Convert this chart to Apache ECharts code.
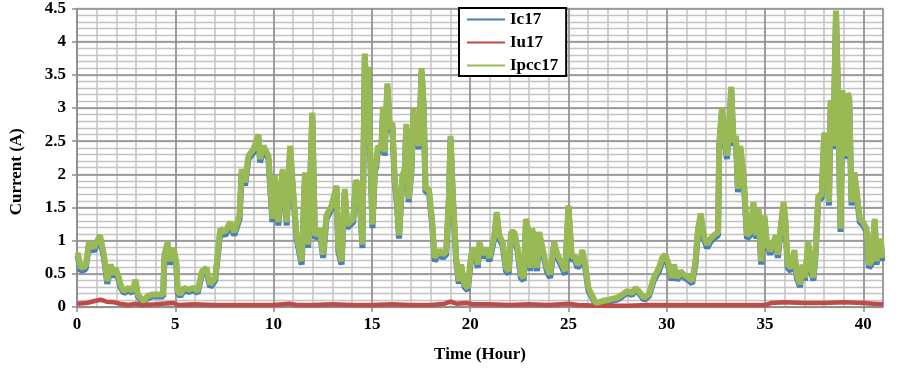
<!DOCTYPE html>
<html>
<head>
<meta charset="utf-8">
<script src="https://cdn.jsdelivr.net/npm/echarts@6/dist/echarts.min.js"></script>
<style>
  html, body { margin: 0; padding: 0; background: #fff; }
  #chart { width: 900px; height: 372px; }
</style>
</head>
<body>
<div id="chart"></div>
<script>
// time in hours for Ic17 / Ipcc17 samples
var hours = [
  0.03,0.19,0.44,0.61,0.86,1.17,1.37,1.54,1.71,1.88,
  1.96,2.13,2.21,2.38,2.64,2.81,2.98,3.09,3.23,3.40,
  3.57,3.82,4.16,4.38,4.45,4.61,4.72,4.92,5.05,5.12,
  5.26,5.43,5.68,5.93,6.14,6.36,6.58,6.78,7.03,7.29,
  7.54,7.79,8.00,8.27,8.38,8.55,8.72,8.98,9.23,9.31,
  9.48,9.74,9.82,9.94,10.07,10.24,10.46,10.67,10.84,11.00,
  11.17,11.43,11.60,11.76,11.97,12.10,12.36,12.52,12.69,12.95,
  13.20,13.29,13.46,13.62,13.74,13.88,14.05,14.18,14.35,14.52,
  14.64,14.72,14.81,14.89,15.03,15.15,15.23,15.31,15.48,15.57,
  15.65,15.79,15.91,16.04,16.16,16.28,16.38,16.55,16.67,16.75,
  16.87,17.01,17.12,17.26,17.39,17.53,17.63,17.73,17.90,18.07,
  18.19,18.44,18.61,18.78,18.92,19.00,19.12,19.29,19.42,19.54,
  19.71,19.88,20.05,20.22,20.39,20.47,20.64,20.81,20.98,21.23,
  21.35,21.48,21.65,21.82,21.96,22.08,22.25,22.41,22.58,22.72,
  22.84,22.97,23.06,23.14,23.26,23.40,23.51,23.68,23.90,24.07,
  24.27,24.44,24.61,24.83,25.00,25.17,25.29,25.46,25.59,25.71,
  25.85,26.01,26.18,26.39,26.72,27.06,27.48,27.74,27.99,28.24,
  28.41,28.58,28.84,29.09,29.34,29.60,29.77,29.93,30.10,30.24,
  30.36,30.53,30.70,30.86,31.12,31.29,31.46,31.59,31.73,31.88,
  32.05,32.22,32.39,32.61,32.67,32.81,32.98,33.06,33.15,33.28,
  33.40,33.52,33.62,33.74,33.91,34.08,34.25,34.41,34.55,34.67,
  34.80,34.97,35.09,35.26,35.43,35.55,35.65,35.77,35.94,36.02,
  36.15,36.32,36.49,36.61,36.78,36.90,37.03,37.20,37.34,37.46,
  37.57,37.71,37.88,38.01,38.13,38.25,38.34,38.47,38.61,38.72,
  38.84,38.94,39.06,39.20,39.28,39.40,39.54,39.65,39.82,39.99,
  40.16,40.28,40.41,40.58,40.67,40.75,40.89,40.96
];

var ipcc17 = [
  0.82,0.59,0.62,0.98,0.89,1.08,0.79,0.39,0.64,0.49,
  0.59,0.44,0.34,0.24,0.29,0.24,0.41,0.19,0.14,0.09,
  0.16,0.19,0.19,0.19,0.79,0.98,0.69,0.89,0.69,0.24,
  0.19,0.29,0.26,0.29,0.24,0.54,0.59,0.34,0.44,1.18,
  1.13,1.28,1.13,1.38,2.08,1.88,2.28,2.38,2.60,2.23,
  2.43,2.28,1.88,1.33,1.98,1.28,2.08,1.28,2.43,1.73,
  1.08,0.69,2.03,0.94,2.93,1.08,1.18,0.79,1.38,1.53,
  1.83,0.89,0.69,1.78,1.24,1.28,1.33,1.91,1.83,0.94,
  3.82,3.07,3.62,2.58,1.24,2.08,2.18,2.43,2.38,3.02,
  2.33,3.37,2.68,2.78,1.93,1.58,1.08,1.98,2.08,2.76,
  1.63,2.08,2.99,2.58,2.43,3.60,3.07,1.78,1.78,1.28,
  0.74,0.86,0.79,0.84,1.68,2.58,1.68,0.74,0.39,0.64,
  0.34,0.29,0.79,0.89,0.64,0.98,0.79,0.89,0.74,1.08,
  1.43,1.08,0.98,0.59,0.54,1.13,1.13,0.89,0.49,0.44,
  1.33,1.13,0.59,1.18,1.08,0.59,1.13,0.89,0.59,0.49,
  0.98,0.79,0.69,0.54,1.53,0.74,0.79,0.64,0.69,0.86,
  0.64,0.29,0.19,0.06,0.09,0.11,0.14,0.19,0.24,0.21,
  0.29,0.24,0.14,0.19,0.44,0.59,0.74,0.79,0.64,0.44,
  0.64,0.44,0.54,0.49,0.44,0.39,0.69,1.18,1.41,1.08,
  0.94,1.03,1.08,1.13,2.48,3.00,2.48,2.28,2.58,3.32,
  2.48,2.58,1.78,2.43,1.98,1.08,1.13,1.58,1.08,1.48,
  0.69,1.38,0.98,0.84,0.98,1.08,0.79,1.13,1.58,1.38,
  0.64,0.59,0.86,0.49,0.34,0.64,0.44,0.98,0.59,0.44,
  0.84,1.68,1.68,2.63,2.38,1.58,3.12,2.43,4.47,3.12,
  1.18,3.27,2.28,3.22,3.17,1.58,2.03,1.78,1.33,1.28,
  1.18,0.64,0.69,1.33,0.69,0.71,1.03,0.74
];

var ic17 = [
  0.77,0.54,0.57,0.93,0.84,1.03,0.74,0.35,0.59,0.45,
  0.54,0.40,0.30,0.21,0.25,0.21,0.37,0.16,0.11,0.07,
  0.13,0.16,0.16,0.16,0.74,0.93,0.64,0.84,0.64,0.21,
  0.16,0.25,0.23,0.25,0.21,0.50,0.54,0.30,0.40,1.13,
  1.08,1.23,1.08,1.33,2.03,1.83,2.23,2.33,2.55,2.18,
  2.38,2.23,1.83,1.28,1.93,1.23,2.03,1.23,2.38,1.68,
  1.03,0.64,1.98,0.89,2.88,1.03,1.13,0.74,1.33,1.48,
  1.78,0.84,0.64,1.73,1.19,1.23,1.28,1.86,1.78,0.89,
  3.77,3.02,3.57,2.53,1.19,2.03,2.13,2.38,2.33,2.97,
  2.28,3.32,2.63,2.73,1.88,1.53,1.03,1.93,2.03,2.71,
  1.58,2.03,2.94,2.53,2.38,3.55,3.02,1.73,1.73,1.23,
  0.69,0.81,0.74,0.79,1.63,2.53,1.63,0.69,0.35,0.59,
  0.30,0.25,0.74,0.84,0.59,0.93,0.74,0.84,0.69,1.03,
  1.38,1.03,0.93,0.54,0.50,1.08,1.08,0.84,0.44,0.40,
  1.28,1.08,0.54,1.13,1.03,0.54,1.08,0.84,0.54,0.44,
  0.93,0.74,0.64,0.49,1.48,0.69,0.74,0.59,0.64,0.81,
  0.59,0.25,0.16,0.03,0.06,0.08,0.11,0.16,0.21,0.18,
  0.26,0.21,0.11,0.16,0.40,0.54,0.69,0.74,0.59,0.40,
  0.59,0.40,0.50,0.45,0.40,0.35,0.64,1.13,1.36,1.03,
  0.89,0.98,1.03,1.08,2.43,2.95,2.43,2.23,2.53,3.27,
  2.43,2.53,1.73,2.38,1.93,1.03,1.08,1.53,1.03,1.43,
  0.64,1.33,0.93,0.79,0.93,1.03,0.74,1.08,1.53,1.33,
  0.59,0.54,0.81,0.44,0.30,0.59,0.40,0.93,0.54,0.40,
  0.79,1.63,1.63,2.58,2.33,1.53,3.07,2.38,4.42,3.07,
  1.13,3.22,2.23,3.17,3.12,1.53,1.98,1.73,1.28,1.23,
  1.13,0.59,0.64,1.28,0.64,0.66,0.98,0.69
];

// Iu17 is small, sampled coarser
var iuHours = [
  0,0.5,0.9,1.2,1.5,1.9,2.2,2.6,3.0,3.3,
  4.0,4.9,5.2,6,7,8,9,10,10.8,11.2,
  12,13,14,15,16,17,18,18.7,19.0,19.3,
  19.8,20.2,21,22,23,24,25,25.5,26.5,27,
  28,29,30,31,32,33,34,35,35.3,36,
  37,38,39,40,40.5,41
];
var iu17 = [
  0.05,0.06,0.09,0.11,0.08,0.07,0.05,0.03,0.05,0.03,
  0.04,0.06,0.03,0.04,0.03,0.03,0.03,0.03,0.05,0.03,
  0.03,0.04,0.03,0.03,0.04,0.03,0.03,0.05,0.08,0.05,
  0.06,0.04,0.04,0.03,0.04,0.03,0.05,0.03,0.02,0.02,
  0.02,0.03,0.03,0.03,0.03,0.03,0.03,0.03,0.06,0.07,
  0.06,0.06,0.07,0.06,0.05,0.04
];

var xTicks = { min: 0, max: 41, major: 5, minor: 1 };
var yTicks = { min: 0, max: 4.5, major: 0.5, minor: 0.1 };

function pairs(xs, ys) {
    var out = [];
    for (var i = 0; i < xs.length; i++) {
        out.push([xs[i], ys[i]]);
    }
    return out;
}

var font = 'Liberation Serif';
var majorColor = '#8c8c8c';
var minorColor = '#c3c3c3';

var chart = echarts.init(document.getElementById('chart'));
var option = {
    animation: false,
    backgroundColor: '#fff',
    grid: { left: 75, right: 17, top: 5, bottom: 65 },
    legend: {
        orient: 'vertical',
        left: 459,
        top: 8,
        backgroundColor: '#fff',
        borderColor: '#000',
        borderWidth: 2,
        borderRadius: 0,
        padding: [3, 8, 2, 8],
        itemGap: 6,
        itemWidth: 38,
        itemHeight: 2,
        icon: 'rect',
        textStyle: { fontFamily: font, fontWeight: 'bold', fontSize: 17, color: '#000', lineHeight: 16 },
        data: ['Ic17', 'Iu17', 'Ipcc17']
    },
    xAxis: [{
        type: 'value',
        min: xTicks.min, max: xTicks.max, interval: xTicks.major,
        z: 3,
        name: 'Time (Hour)',
        nameLocation: 'middle',
        nameGap: 39,
        nameTextStyle: { fontFamily: font, fontWeight: 'bold', fontSize: 17, color: '#000' },
        axisLine: { lineStyle: { color: majorColor, width: 1.5 } },
        axisTick: { show: true, length: 5, lineStyle: { color: majorColor, width: 1.5 } },
        axisLabel: { fontFamily: font, fontWeight: 'bold', fontSize: 17, color: '#000', margin: 9, showMaxLabel: false },
        splitLine: { show: true, lineStyle: { color: majorColor, width: 1.5 } }
    }, {
        type: 'value',
        min: xTicks.min, max: xTicks.max, interval: xTicks.minor,
        z: 1,
        axisLine: { show: false }, axisTick: { show: false }, axisLabel: { show: false },
        splitLine: { show: true, lineStyle: { color: minorColor, width: 1.5 } }
    }],
    yAxis: [{
        type: 'value',
        min: yTicks.min, max: yTicks.max, interval: yTicks.major,
        z: 3,
        name: 'Current (A)',
        nameLocation: 'middle',
        nameGap: 52,
        nameTextStyle: { fontFamily: font, fontWeight: 'bold', fontSize: 17, color: '#000', padding: [0, 28, 0, 0] },
        axisLine: { show: true, lineStyle: { color: majorColor, width: 1.5 } },
        axisTick: { show: true, length: 5, lineStyle: { color: majorColor, width: 1.5 } },
        axisLabel: { fontFamily: font, fontWeight: 'bold', fontSize: 17, color: '#000', margin: 11 },
        splitLine: { show: true, lineStyle: { color: majorColor, width: 1.5 } }
    }, {
        type: 'value',
        position: 'left',
        min: yTicks.min, max: yTicks.max, interval: yTicks.minor,
        z: 1,
        axisLine: { show: false }, axisTick: { show: false }, axisLabel: { show: false },
        splitLine: { show: true, lineStyle: { color: minorColor, width: 1.3 } }
    }],
    series: [{
        name: 'Ic17',
        type: 'line',
        showSymbol: false,
        color: '#4a7ebb',
        lineStyle: { color: '#4a7ebb', width: 6 },
        z: 4,
        data: pairs(hours, ic17)
    }, {
        name: 'Iu17',
        type: 'line',
        showSymbol: false,
        color: '#be4b48',
        lineStyle: { color: '#be4b48', width: 4.5 },
        z: 5,
        data: pairs(iuHours, iu17)
    }, {
        name: 'Ipcc17',
        type: 'line',
        showSymbol: false,
        color: '#98b954',
        lineStyle: { color: '#98b954', width: 6 },
        z: 6,
        data: pairs(hours, ipcc17)
    }]
};
chart.setOption(option);
</script>
</body>
</html>
